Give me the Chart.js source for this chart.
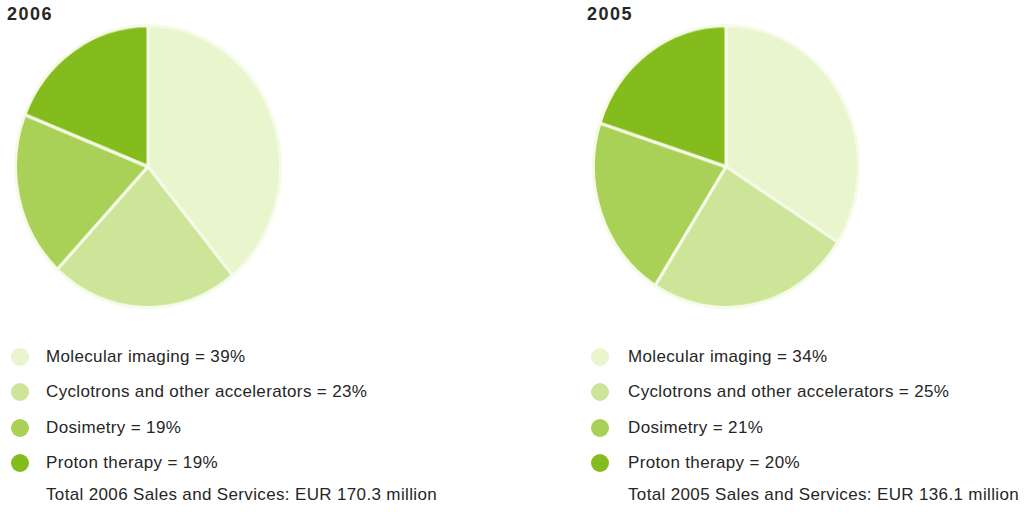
<!DOCTYPE html>
<html>
<head>
<meta charset="utf-8">
<script src="https://cdn.jsdelivr.net/npm/chart.js@4/dist/chart.umd.min.js"></script>
<style>
  html,body{margin:0;padding:0;background:#fff;width:1024px;height:513px;overflow:hidden;}
  body{position:relative;font-family:"Liberation Sans",Arial,sans-serif;color:#262626;}
  .title{position:absolute;top:5px;font-weight:bold;font-size:18px;line-height:18px;letter-spacing:1.5px;}
  .wrap{position:absolute;top:24px;width:268px;height:268px;transform:scaleY(1.064);transform-origin:0 0;}
  .leg{position:absolute;font-size:17px;letter-spacing:0.35px;}
  .row{position:absolute;white-space:nowrap;height:20px;line-height:20px;}
  .dot{position:absolute;width:18px;height:18px;border-radius:50%;}
</style>
</head>
<body>
<div class="title" id="t1" style="left:7px"></div>
<div class="title" id="t2" style="left:587px"></div>
<div class="wrap" style="left:14px"><canvas id="c1" width="268" height="268"></canvas></div>
<div class="wrap" style="left:592px"><canvas id="c2" width="268" height="268"></canvas></div>
<div class="leg" id="l1"></div>
<div class="leg" id="l2"></div>
<script>
const categories = ["Molecular imaging", "Cyclotrons and other accelerators", "Dosimetry", "Proton therapy"];
const years = ["2006", "2005"];
const values2006 = [39, 23, 19, 19];
const values2005 = [34, 25, 21, 20];
const totals = ["Total 2006 Sales and Services: EUR 170.3 million", "Total 2005 Sales and Services: EUR 136.1 million"];
const colors = ["#e9f5cd", "#cce598", "#a9d157", "#85bc1d"];

function makePie(id, vals) {
  new Chart(document.getElementById(id), {
    type: 'pie',
    data: {
      labels: categories,
      datasets: [{ data: vals, backgroundColor: colors, borderColor: '#f5fbe8', borderWidth: 3 }]
    },
    options: {
      responsive: false,
      animation: false,
      layout: { padding: 0 },
      plugins: { legend: { display: false }, tooltip: { enabled: false } }
    }
  });
}
makePie('c1', values2006);
makePie('c2', values2005);

function makeLegend(id, vals, total, dotX, textX) {
  const el = document.getElementById(id);
  const rowsY = [357, 392, 428, 463];
  categories.forEach((c, i) => {
    const d = document.createElement('div');
    d.className = 'dot';
    d.style.left = (dotX - 9) + 'px';
    d.style.top = (rowsY[i] - 9) + 'px';
    d.style.background = colors[i];
    document.body.appendChild(d);
    const r = document.createElement('div');
    r.className = 'row';
    r.style.left = textX + 'px';
    r.style.top = (rowsY[i] - 10) + 'px';
    r.textContent = c + ' = ' + vals[i] + '%';
    el.appendChild(r);
  });
  const t = document.createElement('div');
  t.className = 'row';
  t.style.left = textX + 'px';
  t.style.top = (495 - 10) + 'px';
  t.textContent = total;
  el.appendChild(t);
}
document.getElementById('t1').textContent = years[0];
document.getElementById('t2').textContent = years[1];
makeLegend('l1', values2006, totals[0], 20, 46);
makeLegend('l2', values2005, totals[1], 600, 628);
</script>
</body>
</html>
